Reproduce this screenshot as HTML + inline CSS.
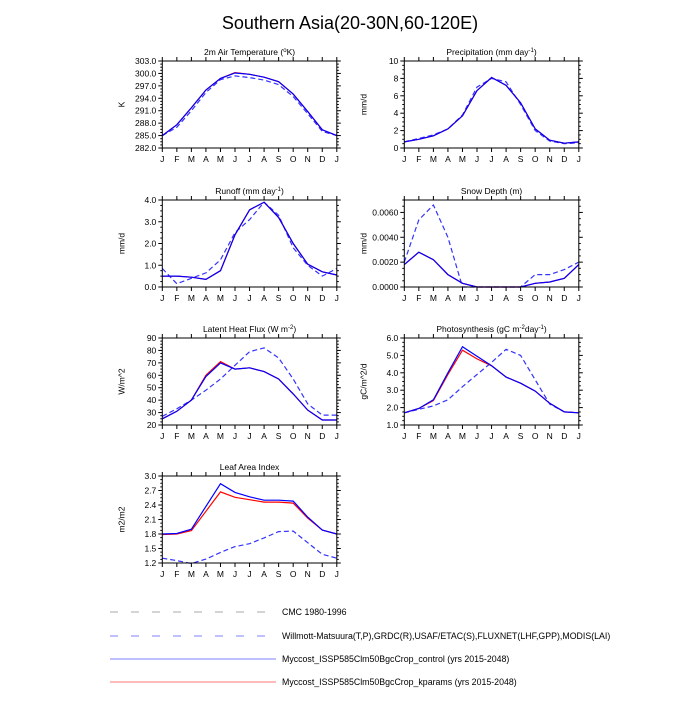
<!DOCTYPE html>
<html><head><meta charset="utf-8"><style>
body{margin:0;background:#fff;}
svg text{font-family:"Liberation Sans",sans-serif;fill:#000;}
</style></head><body>
<svg id="s" width="700" height="700" xmlns="http://www.w3.org/2000/svg"></svg>
<script>
const S=document.getElementById('s');let h='';
h+='<text x="350" y="29" font-size="18" text-anchor="middle">Southern Asia(20-30N,60-120E)</text>';
const M=['J','F','M','A','M','J','J','A','S','O','N','D','J'];
function panel(x0,y0,title,ylab,ymin,ymax,ticks,dec,series){
 const W=174.5,H=87;const X=i=>x0+i*W/12;const Y=v=>y0+H-(v-ymin)/(ymax-ymin)*H;
 h+=`<text x="${x0+W/2}" y="${y0-6}" font-size="8.5" text-anchor="middle">${title}</text>`;
 h+=`<text transform="translate(${x0-38},${y0+H/2}) rotate(-90)" font-size="8.5" text-anchor="middle">${ylab}</text>`;
 for(const s of series){
  const pts=s.d.map((v,i)=>X(i).toFixed(1)+','+Y(v).toFixed(1)).join(' ');
  h+=`<polyline points="${pts}" fill="none" stroke="${s.c}" stroke-width="1.2" ${s.dash?'stroke-dasharray="5,3"':''}/>`;
 }
 h+=`<rect x="${x0}" y="${y0}" width="${W}" height="${H}" fill="none" stroke="#000" stroke-width="1"/>`;
 for(let i=0;i<=12;i++){const x=X(i);
  h+=`<line x1="${x}" y1="${y0+H}" x2="${x}" y2="${y0+H+4}" stroke="#000"/><line x1="${x}" y1="${y0}" x2="${x}" y2="${y0-4}" stroke="#000"/>`;
  h+=`<text x="${x}" y="${y0+H+14}" font-size="8.5" text-anchor="middle">${M[i]}</text>`;}
 const step=ticks[1]-ticks[0];
 for(const t of ticks){const y=Y(t);
  h+=`<line x1="${x0}" y1="${y}" x2="${x0-4}" y2="${y}" stroke="#000"/><line x1="${x0+W}" y1="${y}" x2="${x0+W+4}" y2="${y}" stroke="#000"/>`;
  h+=`<text x="${x0-6}" y="${y+3}" font-size="8.5" text-anchor="end">${t.toFixed(dec)}</text>`;
  for(let k=1;k<4;k++){const v=t+k*step/4;if(v>ymax+1e-9)break;const yy=Y(v);
   h+=`<line x1="${x0}" y1="${yy}" x2="${x0-2}" y2="${yy}" stroke="#000"/><line x1="${x0+W}" y1="${yy}" x2="${x0+W+2}" y2="${yy}" stroke="#000"/>`;}
 }
}
const R='#ff0000',B='#0000ff',D='#3333ff';
const L=162.3,Rx=404.3;
panel(L,61,'2m Air Temperature (<tspan font-size="6" dy="-3">o</tspan><tspan dy="3">K)</tspan>','K',282,303,[282,285,288,291,294,297,300,303],1,[
 {c:D,dash:1,d:[285,287,291,295.4,298.5,299.4,299,298.4,297.3,294.4,290.3,286,285]},
 {c:R,d:[285,287.6,291.7,296,298.8,300.2,299.8,299.1,298,295,290.8,286.4,285]},
 {c:B,d:[285,287.6,291.7,296,298.8,300.1,299.8,299.1,298,295,290.8,286.4,285]}]);
panel(Rx,61,'Precipitation (mm day<tspan font-size="6" dy="-3">-1</tspan><tspan dy="3">)</tspan>','mm/d',0,10,[0,2,4,6,8,10],0,[
 {c:D,dash:1,d:[0.7,1.1,1.5,2.2,3.8,7.0,8.0,7.6,5.0,2.0,0.8,0.5,0.6]},
 {c:R,d:[0.7,1.0,1.4,2.2,3.7,6.6,8.1,7.2,5.2,2.2,0.9,0.55,0.7]},
 {c:B,d:[0.7,1.0,1.4,2.2,3.7,6.6,8.1,7.2,5.2,2.2,0.9,0.55,0.7]}]);
panel(L,200,'Runoff (mm day<tspan font-size="6" dy="-3">-1</tspan><tspan dy="3">)</tspan>','mm/d',0,4,[0,1,2,3,4],1,[
 {c:D,dash:1,d:[0.85,0.15,0.4,0.65,1.25,2.5,3.1,3.9,3.3,1.8,1.0,0.5,0.85]},
 {c:R,d:[0.5,0.5,0.45,0.35,0.75,2.4,3.55,3.9,3.2,2.0,1.05,0.7,0.55]},
 {c:B,d:[0.5,0.5,0.45,0.35,0.75,2.4,3.55,3.9,3.2,2.0,1.05,0.7,0.55]}]);
panel(Rx,200,'Snow Depth (m)','mm/d',0,0.007,[0,0.002,0.004,0.006],4,[
 {c:D,dash:1,d:[.002,.0054,.0066,.004,0,0,0,0,0,.001,.001,.0014,.002]},
 {c:R,d:[.0018,.0028,.0022,.001,.0003,0,0,0,0,.0003,.0004,.0007,.0018]},
 {c:B,d:[.0018,.0028,.0022,.001,.0003,0,0,0,0,.0003,.0004,.0007,.0018]}]);
panel(L,338,'Latent Heat Flux (W m<tspan font-size="6" dy="-3">-2</tspan><tspan dy="3">)</tspan>','W/m^2',20,90,[20,30,40,50,60,70,80,90],0,[
 {c:D,dash:1,d:[27,33,40,48,57,68,79,82,74,57,37,28,28]},
 {c:R,d:[25,31,40,60,71,65,66,63,57,45,32,24,24]},
 {c:B,d:[25,31,40,59,70,65,66,63,57,45,32,24,24]}]);
panel(Rx,338,'Photosynthesis (gC m<tspan font-size="6" dy="-3">-2</tspan><tspan dy="3">day</tspan><tspan font-size="6" dy="-3">-1</tspan><tspan dy="3">)</tspan>','gC/m^2/d',1,6,[1,2,3,4,5,6],1,[
 {c:D,dash:1,d:[1.7,1.9,2.1,2.45,3.2,3.9,4.6,5.35,5.0,3.6,2.2,1.75,1.7]},
 {c:R,d:[1.7,1.95,2.4,3.9,5.3,4.8,4.4,3.75,3.4,2.95,2.25,1.75,1.7]},
 {c:B,d:[1.7,1.95,2.45,4.0,5.5,4.95,4.4,3.75,3.4,2.95,2.25,1.75,1.7]}]);
panel(L,476,'Leaf Area Index','m2/m2',1.2,3.0,[1.2,1.5,1.8,2.1,2.4,2.7,3.0],1,[
 {c:D,dash:1,d:[1.3,1.25,1.19,1.28,1.42,1.54,1.6,1.72,1.85,1.86,1.62,1.38,1.3]},
 {c:R,d:[1.79,1.8,1.87,2.27,2.67,2.56,2.51,2.46,2.46,2.44,2.13,1.88,1.8]},
 {c:B,d:[1.8,1.81,1.9,2.37,2.84,2.66,2.57,2.5,2.5,2.48,2.15,1.88,1.8]}]);
h+='<line x1="110" y1="612" x2="268" y2="612" stroke="#aaa" stroke-width="1" stroke-dasharray="8,13"/>';
h+='<text x="282" y="615" font-size="8.8">CMC 1980-1996</text>';
h+='<line x1="110" y1="636" x2="268" y2="636" stroke="#8080ff" stroke-width="1" stroke-dasharray="8,13"/>';
h+='<text x="282" y="639" font-size="8.8">Willmott-Matsuura(T,P),GRDC(R),USAF/ETAC(S),FLUXNET(LHF,GPP),MODIS(LAI)</text>';
h+='<line x1="110" y1="659" x2="276" y2="659" stroke="#8080ff" stroke-width="1"/>';
h+='<text x="282" y="662" font-size="8.8">Myccost_ISSP585Clm50BgcCrop_control (yrs 2015-2048)</text>';
h+='<line x1="110" y1="682" x2="276" y2="682" stroke="#ff9090" stroke-width="1.2"/>';
h+='<text x="282" y="685" font-size="8.8">Myccost_ISSP585Clm50BgcCrop_kparams (yrs 2015-2048)</text>';
S.innerHTML=h;
</script>
</body></html>
